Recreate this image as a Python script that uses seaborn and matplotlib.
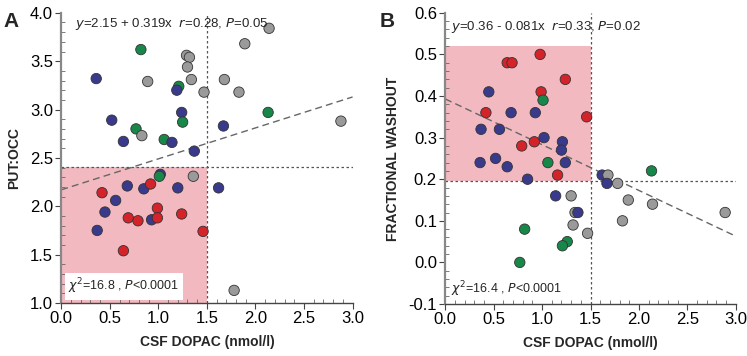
import numpy as np
import pandas as pd
import matplotlib
matplotlib.use("Agg")
import matplotlib.pyplot as plt
from matplotlib.ticker import MultipleLocator
import seaborn as sns

sns.set_theme(style="white")
plt.rcParams["font.family"] = ["Liberation Sans", "DejaVu Sans"]

# group colours
palette = {"red": "#d4242a", "blue": "#3a3a8c", "green": "#18874a", "gray": "#9a9a9a"}

# Panel A: PUT:OCC vs CSF DOPAC
a_x = [0.82, 0.36, 0.89, 1.29, 1.32, 1.30, 1.34, 1.47, 1.21, 1.19, 2.14, 1.89, 1.68, 1.83,
       2.13, 2.88, 0.52, 1.24, 1.25, 1.67, 0.77, 0.83, 0.64, 1.06, 1.14, 1.37,
       1.02, 1.01, 1.36, 0.68, 0.85, 0.92, 1.20, 1.62, 0.42, 0.56, 0.45, 0.99, 1.24,
       0.69, 0.79, 0.93, 0.99, 0.37, 1.46, 0.64, 1.15, 1.78]
a_y = [3.62, 3.32, 3.29, 3.56, 3.54, 3.44, 3.31, 3.18, 3.24, 3.20, 3.84, 3.68, 3.31, 3.18,
       2.97, 2.88, 2.89, 2.97, 2.87, 2.83, 2.80, 2.73, 2.67, 2.69, 2.66, 2.57,
       2.33, 2.31, 2.31, 2.21, 2.18, 2.23, 2.19, 2.19, 2.14, 2.06, 1.94, 1.98, 1.92,
       1.88, 1.85, 1.86, 1.88, 1.75, 1.74, 1.54, 1.25, 1.13]
a_group = ["green", "blue", "gray", "gray", "gray", "gray", "gray", "gray", "green", "blue",
           "gray", "gray", "gray", "gray", "green", "gray", "blue", "blue", "green", "blue",
           "green", "gray", "blue", "green", "blue", "blue",
           "blue", "green", "gray", "blue", "blue", "red", "blue", "blue", "red", "blue",
           "blue", "red", "red", "red", "red", "blue", "red", "blue", "red", "red", "red", "gray"]

# Panel B: fractional washout vs CSF DOPAC
b_x = [0.98, 0.64, 0.69, 1.24, 0.45, 0.99, 1.01, 0.42, 0.68, 0.93, 1.46, 0.37, 0.56, 1.02,
       0.92, 1.21, 0.79, 1.20, 0.36, 0.52, 0.64, 1.06, 1.24, 1.16, 0.85, 1.62, 1.68, 2.13,
       1.67, 1.78, 1.14, 1.30, 1.89, 2.14, 1.34, 1.37, 2.89, 1.32, 1.83, 1.47, 0.82, 1.26,
       1.21, 0.77]
b_y = [0.50, 0.48, 0.48, 0.44, 0.41, 0.41, 0.39, 0.36, 0.36, 0.36, 0.35, 0.32, 0.32, 0.30,
       0.29, 0.29, 0.28, 0.27, 0.24, 0.25, 0.23, 0.24, 0.24, 0.21, 0.20, 0.21, 0.21, 0.22,
       0.19, 0.19, 0.16, 0.16, 0.15, 0.14, 0.12, 0.12, 0.12, 0.09, 0.10, 0.07, 0.08, 0.05,
       0.04, 0.00]
b_group = ["red", "red", "red", "red", "blue", "red", "green", "red", "blue", "blue", "red",
           "blue", "blue", "blue", "red", "blue", "red", "blue", "blue", "blue", "blue",
           "green", "blue", "red", "blue", "blue", "gray", "green", "blue", "gray", "blue",
           "gray", "gray", "gray", "gray", "blue", "gray", "gray", "gray", "gray", "green",
           "green", "green", "green"]

# fitted lines as drawn (intercept, slope), cut-offs and shaded boxes
a_fit = (2.17, 0.32)
b_fit = (0.393, -0.110)
dopac_cut = 1.5
a_cut, b_cut = 2.41, 0.195
b_box_top = 0.52

a_eq = r"$y$=2.15 + 0.319x  $r$=0.28, $P$=0.05"
b_eq = r"$y$=0.36 - 0.081x  $r$=0.33, $P$=0.02"
a_chi = r"$\chi^2$=16.8 , $P$<0.0001"
b_chi = r"$\chi^2$=16.4 , $P$<0.0001"

fig = plt.figure(figsize=(7.47, 3.56), dpi=100)
axA = fig.add_axes([0.082, 0.149, 0.390, 0.815])
axB = fig.add_axes([0.596, 0.146, 0.389, 0.818])


def style_axis(ax, xlim, ylim, ymajor, yminor):
    ax.set_xlim(*xlim)
    ax.set_ylim(*ylim)
    ax.xaxis.set_major_locator(MultipleLocator(0.5))
    ax.xaxis.set_minor_locator(MultipleLocator(0.1))
    ax.yaxis.set_major_locator(MultipleLocator(ymajor))
    ax.yaxis.set_minor_locator(MultipleLocator(yminor))
    ax.xaxis.set_major_formatter(plt.FuncFormatter(lambda v, p: f"{v:.1f}"))
    ax.yaxis.set_major_formatter(plt.FuncFormatter(lambda v, p: f"{v:.1f}"))
    for s in ["top", "right"]:
        ax.spines[s].set_visible(False)
    ax.spines["left"].set_color("#888888")
    ax.spines["left"].set_linewidth(1.6)
    ax.spines["bottom"].set_color("#444444")
    ax.spines["bottom"].set_linewidth(1.0)
    ax.tick_params(which="major", direction="out", length=4, width=0.8, colors="#444444",
                   labelsize=12, labelcolor="black", bottom=True, left=True, pad=2)
    ax.tick_params(which="minor", direction="in", length=3, width=0.6, colors="#666666",
                   bottom=True, left=True)
    ax.grid(False)
    ax.set_facecolor("white")


def draw_panel(ax, xs, ys, groups, fit, ycut, box):
    x1 = 3.0
    ax.axhspan(box[0], box[1], xmin=0, xmax=dopac_cut / x1, color="#f2b9c1", lw=0, zorder=0)
    ax.axhline(ycut, color="#555555", lw=0.9, ls=(0, (2, 2)), zorder=1)
    ax.axvline(dopac_cut, color="#555555", lw=0.9, ls=(0, (2, 2)), zorder=1)
    fx = np.array([0, x1])
    ax.plot(fx, fit[0] + fit[1] * fx, color="#666666", lw=1.0, ls=(0, (5, 3)), zorder=2)
    df = pd.DataFrame({"x": xs, "y": ys, "g": groups})
    sns.scatterplot(data=df, x="x", y="y", hue="g", palette=palette, s=56,
                    edgecolor="#333333", linewidth=0.6, legend=False, ax=ax, zorder=3,
                    clip_on=False)


draw_panel(axA, a_x, a_y, a_group, a_fit, a_cut, (1.0, a_cut))
style_axis(axA, (0, 3.0), (1.0, 4.0), 0.5, 0.1)
axA.set_xlabel("CSF DOPAC (nmol/l)", fontsize=10, fontweight="bold", labelpad=6)
axA.set_ylabel("PUT:OCC", fontsize=10, fontweight="bold", labelpad=6)
axA.text(0.14, 3.97, a_eq, fontsize=9.5, va="top", ha="left")
axA.text(0.07, 1.07, a_chi, fontsize=9, va="bottom", ha="left",
         bbox=dict(facecolor="white", edgecolor="none", pad=2.5))

draw_panel(axB, b_x, b_y, b_group, b_fit, b_cut, (b_cut, b_box_top))
style_axis(axB, (0, 3.0), (-0.1, 0.6), 0.1, 0.02)
axB.set_xlabel("CSF DOPAC (nmol/l)", fontsize=10, fontweight="bold", labelpad=6)
axB.set_ylabel("FRACTIONAL WASHOUT", fontsize=10, fontweight="bold", labelpad=6)
axB.text(0.06, 0.585, b_eq, fontsize=9.5, va="top", ha="left")
axB.text(0.06, -0.088, b_chi, fontsize=9, va="bottom", ha="left")

fig.text(0.005, 0.965, "A", fontsize=15, fontweight="bold", va="top")
fig.text(0.508, 0.965, "B", fontsize=15, fontweight="bold", va="top")

fig.savefig("out.png", dpi=100)
